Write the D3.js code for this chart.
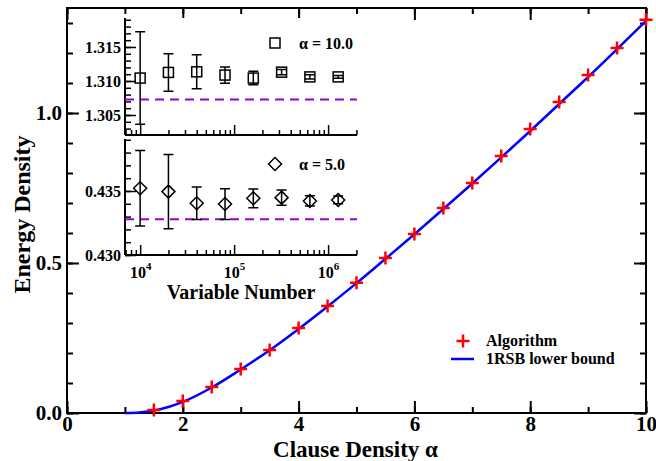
<!DOCTYPE html>
<html><head><meta charset="utf-8">
<script src="https://cdn.jsdelivr.net/npm/d3@7"></script>
<style>
html,body{margin:0;padding:0;background:#fff;}
svg{display:block;}
svg text{font-family:"Liberation Serif","Times New Roman",Times,serif !important;font-weight:bold;}
</style></head>
<body><svg id="c" width="656" height="461"></svg>
<script>
// ---- Main data ----
const alphaAlg = [1.5,2,2.5,3,3.5,4,4.5,5,5.5,6,6.5,7,7.5,8,8.5,9,9.5,10];
const energyAlg = [0.010,0.040,0.087,0.147,0.210,0.283,0.357,0.434,0.517,0.597,0.683,0.767,0.857,0.947,1.037,1.127,1.217,1.311];
const alphaBound = [1,1.25,1.5,1.75,2,2.5,3,3.5,4,4.5,5,5.5,6,6.5,7,7.5,8,8.5,9,9.5,10];
const energyBound = [0,0.002,0.008,0.02,0.037,0.085,0.145,0.209,0.280,0.355,0.4328,0.514,0.596,0.680,0.765,0.852,0.940,1.030,1.120,1.213,1.3073];
const xTicks = [0,2,4,6,8,10];
const yTicks = [0.0,0.5,1.0];
// ---- Inset data ----
const nVars = [1e4,2e4,4e4,8e4,1.6e5,3.2e5,6.4e5,1.28e6];
const e10 = [1.31043,1.31126,1.31135,1.31087,1.31043,1.3113,1.3106,1.3106];
const e10err = [0.0068,0.00275,0.0025,0.0012,0.001,0.0004,0.0003,0.0002];
const bound10 = 1.30729;
const e5 = [0.43521,0.43495,0.43404,0.43398,0.43443,0.43448,0.43422,0.4343];
const e5err = [0.00295,0.0029,0.00127,0.0012,0.00073,0.0006,0.0004,0.0003];
const bound5 = 0.43279;
const yTicks10 = [1.305,1.310,1.315];
const yTicks5 = [0.430,0.435];
const nTicks = [1e4,1e5,1e6];
const nTickExp = ["4","5","6"];

const FONT = '"Liberation Serif","Times New Roman",Times,serif';
const svg = d3.select("#c");
const L=67,R=646,T=8,B=413;
const x = d3.scaleLinear([0,10],[L,R]);
const y = d3.scaleLinear([0,1.35],[B,T]);

function noDomain(g){g.select(".domain").remove(); g.attr("font-family",FONT).attr("font-weight","bold");}
// main axes ticks (inward)
const mkX = d3.range(0,11,1), mkY = d3.range(0,1.35,0.1);
svg.append("g").attr("transform",`translate(0,${B})`).call(d3.axisBottom(x).tickValues(mkX).tickSize(-6).tickFormat("")).call(noDomain);
svg.append("g").attr("transform",`translate(0,${B})`).call(d3.axisBottom(x).tickValues(xTicks).tickSize(-12).tickPadding(3).tickFormat(d3.format("d"))).call(noDomain)
  .selectAll("text").attr("font-size",21).attr("fill","#000").attr("dy","0.7em");
svg.append("g").attr("transform",`translate(0,${T})`).call(d3.axisTop(x).tickValues(mkX).tickSize(-6).tickFormat("")).call(noDomain);
svg.append("g").attr("transform",`translate(0,${T})`).call(d3.axisTop(x).tickValues(xTicks).tickSize(-12).tickFormat("")).call(noDomain);
svg.append("g").attr("transform",`translate(${L},0)`).call(d3.axisLeft(y).tickValues(mkY).tickSize(-6).tickFormat("")).call(noDomain);
svg.append("g").attr("transform",`translate(${L},0)`).call(d3.axisLeft(y).tickValues(yTicks).tickSize(-12).tickPadding(5).tickFormat(d3.format(".1f"))).call(noDomain)
  .selectAll("text").attr("font-size",21).attr("fill","#000");
svg.append("g").attr("transform",`translate(${R},0)`).call(d3.axisRight(y).tickValues(mkY).tickSize(-6).tickFormat("")).call(noDomain);
svg.append("g").attr("transform",`translate(${R},0)`).call(d3.axisRight(y).tickValues(yTicks).tickSize(-12).tickFormat("")).call(noDomain);
svg.selectAll(".tick line").attr("stroke","#000").attr("stroke-width",2);
svg.append("rect").attr("x",L).attr("y",T).attr("width",R-L).attr("height",B-T).attr("fill","none").attr("stroke","#000").attr("stroke-width",2);

// titles
svg.append("text").attr("x",(L+R)/2 - 1).attr("y",457).attr("text-anchor","middle").attr("font-size",23).text("Clause Density α");
svg.append("text").attr("transform",`translate(30,${(T+B)/2+4}) rotate(-90)`).attr("text-anchor","middle").attr("font-size",24).text("Energy Density");

// bound line
const line = d3.line().x((d,i)=>x(alphaBound[i])).y(d=>y(d)).curve(d3.curveMonotoneX);
svg.append("path").datum(energyBound).attr("d",line).attr("fill","none").attr("stroke","#0000ff").attr("stroke-width",2.5);
// algorithm pluses
function plus(g,cx,cy,s){g.append("path").attr("d",`M${cx-s},${cy}H${cx+s}M${cx},${cy-s}V${cy+s}`).attr("stroke","#ff0000").attr("stroke-width",2.5).attr("fill","none");}
const pg = svg.append("g");
energyAlg.forEach((e,i)=>plus(pg,x(alphaAlg[i]),y(e),6.5));

// legend
plus(svg,463,341,6.5);
svg.append("text").attr("x",486).attr("y",346).attr("font-size",16).text("Algorithm");
svg.append("line").attr("x1",451).attr("x2",474).attr("y1",359).attr("y2",359).attr("stroke","#0000ff").attr("stroke-width",2.5);
svg.append("text").attr("x",486).attr("y",364).attr("font-size",16).text("1RSB lower bound");

// ---- Inset ----
const IL=125, IR=357;
const xi = d3.scaleLog([6900,2.03e6],[IL,IR]);
const logMinor = [];
[1e3,1e4,1e5,1e6].forEach(p=>{for(let k=2;k<=9;k++){const v=k*p; if(v>6900&&v<2.03e6&&v!==1e4&&v!==1e5&&v!==1e6) logMinor.push(v);}});
const yu = d3.scaleLinear([1.30206,1.31926],[135,18]);
const yl = d3.scaleLinear([0.430,0.43906],[255,139]);

function panel(ys,top,bot,vals,errs,bound,ticks,minorStep,fmt,marker,label,showX){
  const g = svg.append("g");
  g.append("rect").attr("x",IL).attr("y",top).attr("width",IR-IL).attr("height",bot-top).attr("fill","#fff");
  const d0=ys.domain();
  const minor=d3.range(Math.ceil(d0[0]/minorStep-1e-6)*minorStep,d0[1],minorStep);
  g.append("g").attr("transform",`translate(${IL},0)`).call(d3.axisLeft(ys).tickValues(minor).tickSize(-6).tickFormat("")).call(noDomain);
  g.append("g").attr("transform",`translate(${IL},0)`).call(d3.axisLeft(ys).tickValues(ticks).tickSize(-11).tickPadding(4).tickFormat(d3.format(fmt))).call(noDomain)
    .selectAll("text").attr("font-size",16).attr("fill","#000");
  g.append("g").attr("transform",`translate(0,${bot})`).call(d3.axisBottom(xi).tickValues(logMinor).tickSize(-5).tickFormat("")).call(noDomain);
  const ax = g.append("g").attr("transform",`translate(0,${bot})`).call(d3.axisBottom(xi).tickValues(nTicks).tickSize(-10).tickPadding(7).tickFormat("")).call(noDomain);
  if(showX){
    ax.selectAll(".tick").append("text").attr("y",23).attr("text-anchor","middle").attr("fill","#000").attr("font-size",16)
      .each(function(d,i){const t=d3.select(this);t.append("tspan").text("10");t.append("tspan").attr("dy",-8).attr("font-size",11).text(nTickExp[i]);});
  }
  g.selectAll(".tick line").attr("stroke","#000").attr("stroke-width",1.5);
  g.append("line").attr("x1",IL).attr("x2",IL).attr("y1",top).attr("y2",bot).attr("stroke","#000").attr("stroke-width",2);
  g.append("line").attr("x1",IL).attr("x2",IR).attr("y1",bot).attr("y2",bot).attr("stroke","#000").attr("stroke-width",2);
  // bound
  g.append("line").attr("x1",IL).attr("x2",IR).attr("y1",ys(bound)).attr("y2",ys(bound)).attr("stroke","#9400d3").attr("stroke-width",2).attr("stroke-dasharray","9,6");
  // errorbars
  vals.forEach((v,i)=>{
    const cx=xi(nVars[i]), y1=ys(v+errs[i]), y2=ys(v-errs[i]);
    g.append("path").attr("d",`M${cx},${y1}V${y2}M${cx-5},${y1}H${cx+5}M${cx-5},${y2}H${cx+5}`).attr("stroke","#000").attr("stroke-width",1.5).attr("fill","none");
    drawMarker(g,marker,cx,ys(v));
  });
  // legend
  drawMarker(g,marker,275,top+25);
  g.append("text").attr("x",299).attr("y",top+31).attr("font-size",16).text(label);
}
function drawMarker(g,m,cx,cy){
  if(m==="square") g.append("rect").attr("x",cx-5).attr("y",cy-5).attr("width",10).attr("height",10).attr("fill","none").attr("stroke","#000").attr("stroke-width",1.5);
  else g.append("path").attr("d",`M${cx},${cy-6.5}L${cx+6.5},${cy}L${cx},${cy+6.5}L${cx-6.5},${cy}Z`).attr("fill","none").attr("stroke","#000").attr("stroke-width",1.5);
}
panel(yu,18,135,e10,e10err,bound10,yTicks10,0.001,".3f","square","α = 10.0",false);
panel(yl,139,255,e5,e5err,bound5,yTicks5,0.001,".3f","diamond","α = 5.0",true);
svg.append("text").attr("x",241).attr("y",299).attr("text-anchor","middle").attr("font-size",20).text("Variable Number");
</script></body></html>
